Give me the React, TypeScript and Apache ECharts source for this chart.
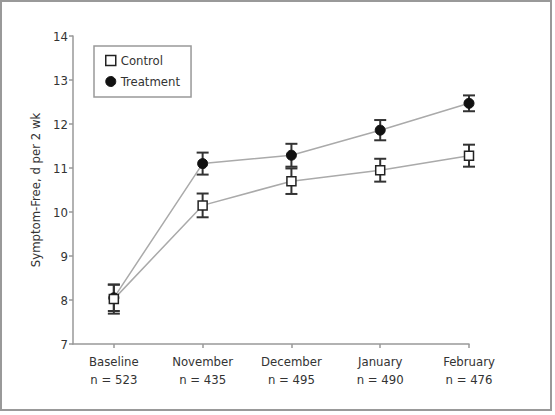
import React, { useEffect, useRef } from "react";
import * as echarts from "echarts";

const categories = ["Baseline", "November", "December", "January", "February"];
const nLabels = ["n = 523", "n = 435", "n = 495", "n = 490", "n = 476"];
const controlMean = [8.02, 10.15, 10.7, 10.95, 11.28];
const controlErr = [0.33, 0.27, 0.29, 0.26, 0.25];
const treatmentMean = [8.05, 11.1, 11.29, 11.86, 12.47];
const treatmentErr = [0.3, 0.25, 0.26, 0.23, 0.18];
const yTicks = [7, 8, 9, 10, 11, 12, 13, 14];

const FONT = "'Liberation Sans Narrow', 'DejaVu Sans Condensed', 'Roboto Condensed', sans-serif";
const TEXT = "#333";

export default function App() {
  const ref = useRef<HTMLDivElement>(null);
  useEffect(() => {
    if (!ref.current) return;
    const chart = echarts.init(ref.current, null, { renderer: "svg" });
    const xs = categories.map((_, i) => i);
    const errData = (mean: number[], err: number[]) =>
      mean.map((m, i) => [xs[i], m - err[i], m + err[i]]);
    const renderErr = (params: any, api: any) => {
      const x = api.value(0);
      const lo = api.coord([x, api.value(1)]);
      const hi = api.coord([x, api.value(2)]);
      const w = 6;
      const style = { stroke: "#333", lineWidth: 2 };
      return {
        type: "group",
        children: [
          { type: "line", shape: { x1: lo[0], y1: lo[1], x2: hi[0], y2: hi[1] }, style },
          { type: "line", shape: { x1: lo[0] - w, y1: lo[1], x2: lo[0] + w, y2: lo[1] }, style },
          { type: "line", shape: { x1: hi[0] - w, y1: hi[1], x2: hi[0] + w, y2: hi[1] }, style },
        ],
      };
    };
    chart.setOption({
      animation: false,
      textStyle: { fontFamily: FONT },
      graphic: [
        {
          type: "rect",
          shape: { x: 1, y: 1, width: 550, height: 409 },
          style: { fill: "none", stroke: "#999", lineWidth: 2 },
          silent: true,
        },
      ],
      legend: {
        left: 94,
        top: 46,
        orient: "vertical",
        borderColor: "#999",
        borderWidth: 1.5,
        padding: [8, 11, 9, 11],
        itemGap: 8,
        itemWidth: 10,
        itemHeight: 10,
        textStyle: { fontFamily: FONT, fontSize: 13, color: TEXT },
        data: [
          { name: "Control", icon: "rect", itemStyle: { color: "#fff", borderColor: "#222", borderWidth: 1.5 } },
          { name: "Treatment", icon: "circle", itemStyle: { color: "#111", borderColor: "#111", borderWidth: 1 } },
        ],
      },
      grid: { left: 73, right: 86, top: 36, bottom: 71, containLabel: false },
      xAxis: {
        type: "value",
        min: -0.46,
        max: 4,
        splitLine: { show: false },
        axisLine: { onZero: false, lineStyle: { color: "#999", width: 1.5 } },
        axisTick: { show: true, length: 4, customValues: xs, lineStyle: { color: "#999", width: 1.5 } },
        axisLabel: {
          customValues: xs,
          formatter: (v: number) => categories[Math.round(v)] + "\n" + nLabels[Math.round(v)],
          fontFamily: FONT,
          fontSize: 13,
          color: TEXT,
          lineHeight: 18,
          margin: 8,
        },
      },
      yAxis: {
        type: "value",
        min: 7,
        max: 14,
        interval: 1,
        name: "Symptom-Free, d per 2 wk",
        nameLocation: "middle",
        nameGap: 30,
        nameTextStyle: { fontFamily: FONT, fontSize: 13, color: TEXT },
        splitLine: { show: false },
        axisLine: { show: true, onZero: false, lineStyle: { color: "#999", width: 1.5 } },
        axisTick: { show: true, length: 4, lineStyle: { color: "#999", width: 1.5 } },
        axisLabel: {
          fontFamily: FONT,
          fontSize: 13,
          color: TEXT,
          margin: 5,
          formatter: (v: number) => (yTicks.includes(v) ? String(v) : ""),
        },
      },
      series: [
        {
          type: "custom",
          name: "ControlErr",
          renderItem: renderErr,
          data: errData(controlMean, controlErr),
          encode: { x: 0, y: [1, 2] },
          z: 2,
          silent: true,
        },
        {
          type: "custom",
          name: "TreatmentErr",
          renderItem: renderErr,
          data: errData(treatmentMean, treatmentErr),
          encode: { x: 0, y: [1, 2] },
          z: 2,
          silent: true,
        },
        {
          type: "line",
          name: "Treatment",
          data: treatmentMean.map((v, i) => [xs[i], v]),
          symbol: "circle",
          symbolSize: 10,
          itemStyle: { color: "#111", borderColor: "#111", borderWidth: 1 },
          lineStyle: { color: "#aaa", width: 1.5 },
          z: 3,
        },
        {
          type: "line",
          name: "Control",
          data: controlMean.map((v, i) => [xs[i], v]),
          symbol: "rect",
          symbolSize: 9,
          itemStyle: { color: "#fff", borderColor: "#222", borderWidth: 1.5 },
          lineStyle: { color: "#aaa", width: 1.5 },
          z: 4,
        },
      ],
    });
    return () => chart.dispose();
  }, []);
  return (
    <div
      ref={ref}
      style={{ position: "absolute", left: 0, top: 0, width: 555, height: 415, background: "#fff" }}
    />
  );
}
